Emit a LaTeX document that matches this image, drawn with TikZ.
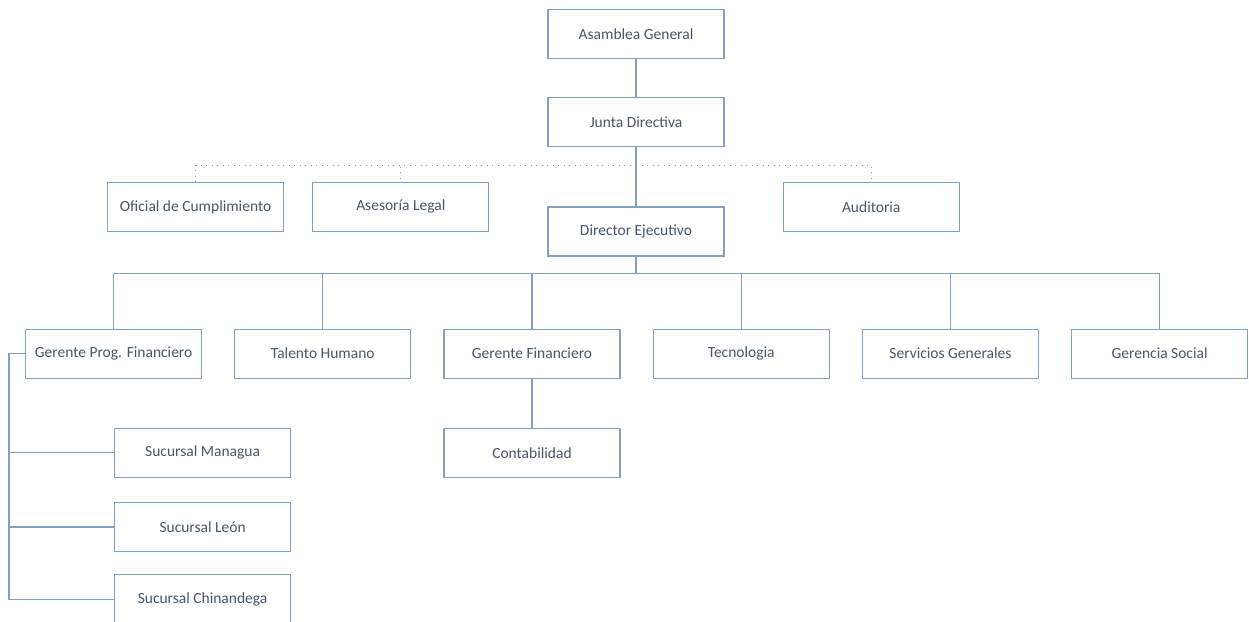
\documentclass[tikz,border=0pt]{standalone}
\usepackage{fontspec}
\setmainfont{Carlito}
\usetikzlibrary{positioning}
\definecolor{boxline}{RGB}{132,160,190}
\definecolor{boxtext}{RGB}{72,86,104}
\begin{document}
\begin{tikzpicture}[box/.style = {draw=boxline, line width=1.2pt, fill=white, minimum width=176pt, minimum height=49pt, inner sep=0pt, text=boxtext, font=\fontsize{15.5}{17}\selectfont},
                    link/.style={draw=boxline, line width=1.2pt},
                    dotlink/.style={draw=boxline, line width=1.2pt, dash pattern=on 1pt off 4.5pt}]
                    \useasboundingbox[fill=white] (0,0) rectangle (1249pt,-621pt);

                    \node[box] (1) at (636pt,-34pt) {Asamblea General};
                    \node[box] (2) [below=38pt of 1] {Junta Directiva};
                    \node[box] (3) [below=59pt of 2] {Director Ejecutivo};
                    \node[box] (5) [left=58pt of 3, yshift=24.5pt] {Asesoría Legal};
                    \node[box] (4) [left=28pt of 5] {Oficial de Cumplimiento};
                    \node[box] (6) [right=58pt of 3, yshift=24.5pt] {Auditoria};
                    \node[box] (9) [below=72pt of 3, xshift=-104pt] {Gerente Financiero};
                    \node[box] (8) [left=32pt of 9] {Talento Humano};
                    \node[box] (7) [left=32pt of 8] {Gerente Prog. Financiero};
                    \node[box] (10) [right=32pt of 9] {Tecnologia};
                    \node[box] (11) [right=32pt of 10] {Servicios Generales};
                    \node[box] (12) [right=32pt of 11] {Gerencia Social};
                    \node[box] (13) [below=49pt of 9] {Contabilidad};
                    \node[box] (14) [below=49pt of 7, xshift=89pt] {Sucursal Managua};
                    \node[box] (15) [below=24pt of 14] {Sucursal León};
                    \node[box] (16) [below=22pt of 15] {Sucursal Chinandega};

                    \draw[link] (1) -- (2);
                    \draw[link] (2) -- (3);
                    \foreach \n in {4,5,6}
                        \draw[dotlink] (2.south) ++(0,-18pt) -| (\n.north);
                    \foreach \n in {7,...,12}
                        \draw[link] (3.south) -- ++(0,-17pt) -| (\n.north);
                    \draw[link] (9) -- (13);
                    \draw[link] (7.west) -- ++(-16pt,0) |- (16.west);
                    \draw[link] (7.west) -- ++(-16pt,0) |- (14.west);
                    \draw[link] (7.west) -- ++(-16pt,0) |- (15.west);
                \end{tikzpicture}
\end{document}
